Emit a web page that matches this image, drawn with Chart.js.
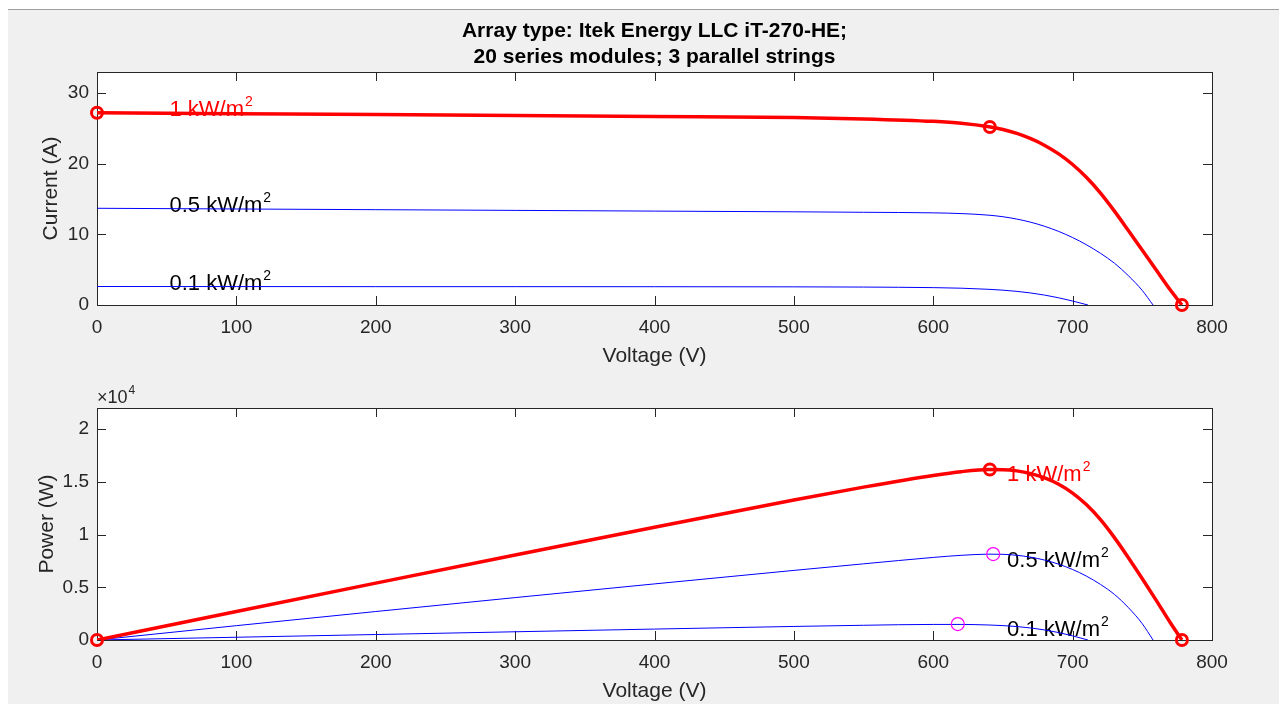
<!DOCTYPE html>
<html>
<head>
<meta charset="utf-8">
<script src="https://cdn.jsdelivr.net/npm/chart.js@4.4.1/dist/chart.umd.min.js"></script>
<style>
  body { margin: 0; background: #fff; width: 1279px; height: 704px; overflow: hidden; position: relative; }
  #fig { position: absolute; left: 8px; top: 9px; right: 0; bottom: 0; background: #f0f0f0; border-top: 1px solid #a0a0a0; }
  canvas { position: absolute; left: 0; }
  #ivChart { top: 0; }
  #pvChart { top: 375px; }
</style>
</head>
<body>
<div id="fig"></div>
<canvas id="ivChart" width="1279" height="375"></canvas>
<canvas id="pvChart" width="1279" height="329"></canvas>
<script>
// values
const voltage1 = [0, 100, 200, 300, 400, 500, 550, 600, 620, 640, 650, 660, 670, 680, 690, 700, 710, 720, 730, 740, 750, 760, 770, 778.4];
const current1 = [27.22, 27.1, 26.98, 26.85, 26.71, 26.56, 26.36, 26.01, 25.75, 25.25, 24.85, 24.3, 23.55, 22.6, 21.4, 19.9, 18.05, 15.85, 13.3, 10.55, 7.75, 4.95, 2.15, 0];
const power1 = [0, 2710, 5396, 8055, 10684, 13280, 14498, 15606, 15965, 16160, 16153, 16038, 15779, 15368, 14766, 13930, 12816, 11412, 9709, 7807, 5813, 3762, 1656, 0];

const voltage05 = [0, 100, 200, 300, 400, 500, 550, 600, 620, 640, 650, 660, 670, 680, 690, 700, 710, 720, 730, 740, 750, 757.7];
const current05 = [13.7, 13.6, 13.5, 13.4, 13.3, 13.2, 13.13, 13.05, 12.95, 12.72, 12.5, 12.17, 11.72, 11.14, 10.42, 9.55, 8.52, 7.32, 5.92, 4.15, 2.05, 0];
const power05 = [0, 1360, 2700, 4020, 5320, 6600, 7222, 7830, 8029, 8141, 8125, 8032, 7852, 7575, 7190, 6685, 6049, 5270, 4322, 3071, 1538, 0];

const voltage01 = [0, 100, 200, 300, 400, 500, 550, 600, 620, 640, 650, 660, 670, 680, 690, 700, 711];
const current01 = [2.62, 2.61, 2.6, 2.6, 2.59, 2.57, 2.54, 2.46, 2.38, 2.22, 2.1, 1.93, 1.7, 1.4, 1.02, 0.56, 0];
const power01 = [0, 261, 520, 780, 1036, 1285, 1397, 1476, 1476, 1421, 1365, 1274, 1139, 952, 704, 392, 0];

// Isc, MPP, Voc of the 1 kW/m2 curve
const keyVoltage1 = [0, 640.6, 778.4];
const keyCurrent1 = [27.22, 25.22, 0];
const keyPower1 = [0, 16170, 0];
// magenta MPP markers of the lower irradiances
const mppVoltage = [643, 617.6];
const mppPower = [8150, 1510];

const irradianceLabels = ['1 kW/m', '0.5 kW/m', '0.1 kW/m'];
const voltageTicks = [0, 100, 200, 300, 400, 500, 600, 700, 800];
const currentTicks = [0, 10, 20, 30];
const powerTicks = [0, 5000, 10000, 15000, 20000];

const FONT = '"Liberation Sans", Arial, Helvetica, sans-serif';
const AX = '#262626';

function pts(xs, ys) {
  return xs.map((v, i) => ({ x: v, y: ys[i] }));
}

function drawIrr(ctx, x, y, text, color) {
  ctx.font = '22px ' + FONT;
  ctx.fillStyle = color;
  ctx.textAlign = 'left';
  ctx.textBaseline = 'alphabetic';
  ctx.fillText(text, x, y);
  const w = ctx.measureText(text).width;
  ctx.font = '14px ' + FONT;
  ctx.fillText('2', x + w + 1, y - 10);
}

function boxPlugin(labels, extra) {
  return {
    id: 'box',
    beforeDraw(chart) {
      const { ctx, chartArea: a } = chart;
      ctx.save();
      ctx.fillStyle = '#fff';
      ctx.fillRect(a.left, a.top, a.width, a.height);
      ctx.restore();
    },
    beforeDatasetsDraw(chart) {
      const { ctx, chartArea: a, scales: { x, y } } = chart;
      ctx.save();
      ctx.strokeStyle = AX;
      ctx.lineWidth = 1;
      ctx.strokeRect(a.left + 0.5, a.top + 0.5, a.width, a.height);
      ctx.beginPath();
      x.ticks.forEach(t => {
        const px = Math.round(x.getPixelForValue(t.value)) + 0.5;
        ctx.moveTo(px, a.bottom); ctx.lineTo(px, a.bottom - 9);
        ctx.moveTo(px, a.top); ctx.lineTo(px, a.top + 9);
      });
      y.ticks.forEach(t => {
        const py = Math.round(y.getPixelForValue(t.value)) + 0.5;
        ctx.moveTo(a.left, py); ctx.lineTo(a.left + 9, py);
        ctx.moveTo(a.right, py); ctx.lineTo(a.right - 9, py);
      });
      ctx.stroke();
      labels.forEach(l => {
        drawIrr(ctx, x.getPixelForValue(l.v), y.getPixelForValue(l.val) + 3.5, l.text, l.color);
      });
      if (extra) extra(ctx, a);
      ctx.restore();
    }
  };
}

function axisX(height, titlePad) {
  return {
    type: 'linear', min: 0, max: 800,
    afterBuildTicks: s => { s.ticks = voltageTicks.map(v => ({ value: v })); },
    afterFit: s => { s.height = height; },
    grid: { display: false, drawTicks: false },
    border: { display: false },
    ticks: { padding: 11, color: AX, font: { size: 19, family: FONT }, maxRotation: 0, autoSkip: false },
    title: { display: true, text: 'Voltage (V)', color: AX, font: { size: 21, family: FONT }, padding: { top: 0, bottom: titlePad } }
  };
}

function axisY(max, ticks, title, titlePad, fmt) {
  return {
    min: 0, max: max,
    afterBuildTicks: s => { s.ticks = ticks.map(v => ({ value: v })); },
    afterFit: s => { s.width = 97; },
    grid: { display: false, drawTicks: false },
    border: { display: false },
    ticks: { padding: 8, color: AX, font: { size: 19, family: FONT }, callback: fmt },
    title: { display: true, text: title, color: AX, font: { size: 21, family: FONT }, padding: { top: titlePad, bottom: 0 } }
  };
}

function curve(xs, ys, color, width) {
  return {
    data: pts(xs, ys), borderColor: color, borderWidth: width,
    pointRadius: 0, cubicInterpolationMode: 'monotone', fill: false
  };
}

function markers(xs, ys, color, r, bw) {
  return {
    data: pts(xs, ys), showLine: false, clip: false,
    pointRadius: r, pointBorderWidth: bw, pointBorderColor: color,
    pointBackgroundColor: 'rgba(0,0,0,0)', pointHoverRadius: r
  };
}

const common = {
  responsive: false,
  animation: false,
  events: [],
  plugins: { legend: { display: false }, tooltip: { enabled: false } }
};

// title drawn over the top chart
const titlePlugin = {
  id: 'figTitle',
  afterDraw(chart) {
    const { ctx, chartArea: a } = chart;
    ctx.save();
    ctx.font = 'bold 21px ' + FONT;
    ctx.fillStyle = '#000';
    ctx.textAlign = 'center';
    ctx.textBaseline = 'middle';
    const cx = (a.left + a.right) / 2;
    ctx.fillText('Array type: Itek Energy LLC iT-270-HE;', cx, 31);
    ctx.fillText('20 series modules; 3 parallel strings', cx, 57);
    ctx.restore();
  }
};

new Chart(document.getElementById('ivChart'), {
  type: 'line',
  data: {
    datasets: [
      markers(keyVoltage1, keyCurrent1, '#ff0000', 5.5, 3),
      curve(voltage1, current1, '#ff0000', 3.5),
      curve(voltage05, current05, '#0000ff', 1),
      curve(voltage01, current01, '#0000ff', 1)
    ]
  },
  options: Object.assign({}, common, {
    layout: { padding: { top: 72, right: 67, bottom: 0, left: 0 } },
    scales: {
      x: axisX(70, 6),
      y: axisY(33, currentTicks, 'Current (A)', 39, v => String(v))
    }
  }),
  plugins: [boxPlugin([
    { v: 52, val: current1[0], text: irradianceLabels[0], color: '#ff0000' },
    { v: 52, val: current05[0], text: irradianceLabels[1], color: '#000' },
    { v: 52, val: current01[0], text: irradianceLabels[2], color: '#000' }
  ]), titlePlugin]
});

new Chart(document.getElementById('pvChart'), {
  type: 'line',
  data: {
    datasets: [
      markers(keyVoltage1, keyPower1, '#ff0000', 5.5, 3),
      markers(mppVoltage, mppPower, '#ff00ff', 6.5, 1.2),
      curve(voltage1, power1, '#ff0000', 3.5),
      curve(voltage05, power05, '#0000ff', 1),
      curve(voltage01, power01, '#0000ff', 1)
    ]
  },
  options: Object.assign({}, common, {
    layout: { padding: { top: 33, right: 67, bottom: 0, left: 0 } },
    scales: {
      x: axisX(64, 0),
      y: axisY(22000, powerTicks, 'Power (W)', 35, v => String(v / 10000))
    }
  }),
  plugins: [boxPlugin([
    { v: 653, val: 15400, text: irradianceLabels[0], color: '#ff0000' },
    { v: 653, val: 7280, text: irradianceLabels[1], color: '#000' },
    { v: 653, val: 740, text: irradianceLabels[2], color: '#000' }
  ], (ctx, a) => {
    // exponent label of the power axis
    ctx.fillStyle = AX;
    ctx.textAlign = 'left';
    ctx.textBaseline = 'alphabetic';
    ctx.font = '18px ' + FONT;
    ctx.fillText('\u00d710', a.left, a.top - 5);
    const w = ctx.measureText('\u00d710').width;
    ctx.font = '12px ' + FONT;
    ctx.fillText('4', a.left + w + 1, a.top - 14);
  })]
});
</script>
</body>
</html>
